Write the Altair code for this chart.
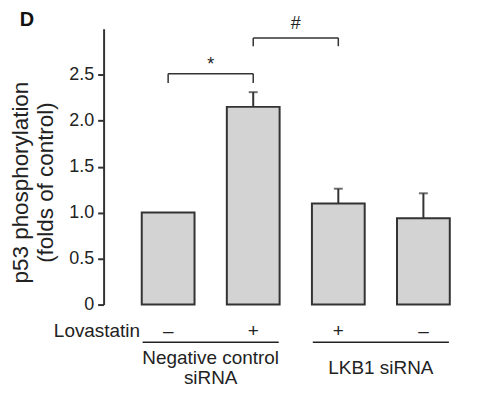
import altair as alt
import pandas as pd

# bar data
positions = [1, 2, 3, 4]
means = [1.0, 2.15, 1.10, 0.94]
errors = [0.0, 0.16, 0.16, 0.27]
signs = ["–", "+", "+", "–"]

y_ticks = [0, 0.5, 1.0, 1.5, 2.0, 2.5]

# significance brackets
br_x1 = [1, 2]
br_x2 = [2, 3]
br_top = [2.51, 2.90]
br_leg = [2.41, 2.81]
br_label = ["*", "#"]
br_label_y = [2.60, 3.05]

# group annotations below axis
grp_x1 = [0.70, 2.70]
grp_x2 = [2.30, 4.30]
grp_line_y = -0.41
grp_lines = [["Negative control", "siRNA"], ["LKB1 siRNA"]]
grp_text_y = [[-0.58, -0.80], [-0.69]]
sign_y = -0.29
lov_label = "Lovastatin"
lov_x = 0.67

panel_label = "D"
panel_x = -0.66
panel_y = 3.09

FONT = "Liberation Sans"

bars = pd.DataFrame({"pos": positions, "mean": means, "err": errors, "sign": signs})
bars["top"] = bars["mean"] + bars["err"]
errdf = bars[bars["err"] > 0]

xs = alt.Scale(domain=[0.3, 4.525], nice=False, zero=False)
ys = alt.Scale(domain=[0, 3], nice=False)

X = alt.X("pos:Q", scale=xs, axis=None)

bar = alt.Chart(bars).mark_bar(size=53, fill="#d3d3d3", stroke="#333333", strokeWidth=2).encode(
    x=alt.X("pos:Q", scale=xs, axis=alt.Axis(orient="bottom", labels=False, ticks=False, title=None,
                                             grid=False, domainColor="#333333", domainWidth=2)),
    y=alt.Y("mean:Q", scale=ys, axis=alt.Axis(
        values=y_ticks, title=["p53 phosphorylation", "(folds of control)"],
        labelExpr="datum.value == 0 ? '0' : format(datum.value, '.1f')",
        labelFontSize=18, labelFont=FONT, labelColor="#222222", labelPadding=4,
        tickSize=6, tickWidth=2, tickColor="#333333", domainColor="#333333", domainWidth=2,
        grid=False, titleFont=FONT, titleFontSize=22.5, titleFontWeight="normal", titleColor="#222222",
        titleAngle=270, titleBaseline="top", titleX=-94, titleY=154, titleLineHeight=25,
        titleAlign="center")),
)

err_rule = alt.Chart(errdf).mark_rule(color="#333333", strokeWidth=2).encode(
    x=X, y=alt.Y("mean:Q", scale=ys), y2="top:Q")
err_cap = alt.Chart(errdf).mark_tick(color="#333333", thickness=2, size=9, orient="horizontal").encode(
    x=X, y=alt.Y("top:Q", scale=ys))

brdf = pd.DataFrame({"x1": br_x1, "x2": br_x2, "top": br_top, "leg": br_leg,
                     "label": br_label, "ly": br_label_y})
brdf["mid"] = (brdf["x1"] + brdf["x2"]) / 2
br_h = alt.Chart(brdf).mark_rule(color="#333333", strokeWidth=1.5, clip=False).encode(
    x=alt.X("x1:Q", scale=xs, axis=None), x2="x2:Q", y=alt.Y("top:Q", scale=ys))
br_l1 = alt.Chart(brdf).mark_rule(color="#333333", strokeWidth=1.5, clip=False).encode(
    x=alt.X("x1:Q", scale=xs, axis=None), y=alt.Y("leg:Q", scale=ys), y2="top:Q")
br_l2 = alt.Chart(brdf).mark_rule(color="#333333", strokeWidth=1.5, clip=False).encode(
    x=alt.X("x2:Q", scale=xs, axis=None), y=alt.Y("leg:Q", scale=ys), y2="top:Q")
br_txt = alt.Chart(brdf).mark_text(font=FONT, fontSize=18, color="#222222", baseline="middle", clip=False).encode(
    x=alt.X("mid:Q", scale=xs, axis=None), y=alt.Y("ly:Q", scale=ys), text="label:N")

sign_df = pd.DataFrame({"pos": positions, "sign": signs, "y": [sign_y] * 4})
sign_txt = alt.Chart(sign_df).mark_text(font=FONT, fontSize=19, color="#222222", baseline="middle", clip=False).encode(
    x=X, y=alt.Y("y:Q", scale=ys), text="sign:N")

lov_df = pd.DataFrame({"x": [lov_x], "y": [sign_y], "t": [lov_label]})
lov_txt = alt.Chart(lov_df).mark_text(font=FONT, fontSize=19, color="#222222", align="right",
                                      baseline="middle", clip=False).encode(
    x=alt.X("x:Q", scale=xs, axis=None), y=alt.Y("y:Q", scale=ys), text="t:N")

gl_df = pd.DataFrame({"x1": grp_x1, "x2": grp_x2, "y": [grp_line_y] * 2})
gl = alt.Chart(gl_df).mark_rule(color="#222222", strokeWidth=1.5, clip=False).encode(
    x=alt.X("x1:Q", scale=xs, axis=None), x2="x2:Q", y=alt.Y("y:Q", scale=ys))

gt_rows = []
for i, lines in enumerate(grp_lines):
    for j, line in enumerate(lines):
        gt_rows.append({"x": (grp_x1[i] + grp_x2[i]) / 2, "y": grp_text_y[i][j], "t": line})
gt_df = pd.DataFrame(gt_rows)
gt = alt.Chart(gt_df).mark_text(font=FONT, fontSize=19, color="#222222", baseline="middle", clip=False).encode(
    x=alt.X("x:Q", scale=xs, axis=None), y=alt.Y("y:Q", scale=ys), text="t:N")

pd_df = pd.DataFrame({"x": [panel_x], "y": [panel_y], "t": [panel_label]})
panel = alt.Chart(pd_df).mark_text(font=FONT, fontSize=20, fontWeight="bold", color="#111111",
                                   baseline="middle", clip=False).encode(
    x=alt.X("x:Q", scale=xs, axis=None), y=alt.Y("y:Q", scale=ys), text="t:N")

chart = alt.layer(bar, err_rule, err_cap, br_h, br_l1, br_l2, br_txt, sign_txt, lov_txt, gl, gt, panel).properties(
    width=371, height=277,
    background="white",
    autosize=alt.AutoSizeParams(type="none"),
    padding={"left": 96, "top": 20, "right": 10, "bottom": 88},
).configure_view(stroke=None, strokeWidth=0)

chart.save("out.html", embed_options={"renderer": "svg", "actions": False})
